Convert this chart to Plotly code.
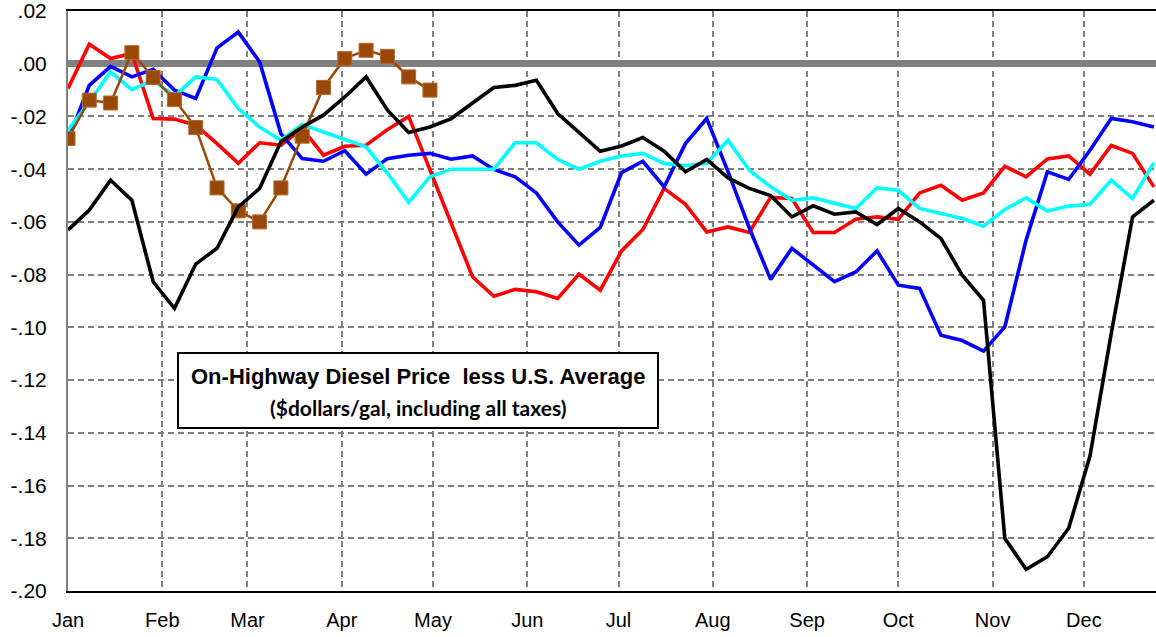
import pandas as pd
import plotly.graph_objects as go

# Weekly observation dates (52 weeks starting Jan 1)
weeks = pd.date_range("2019-01-01", periods=52, freq="7D")

month_labels = ["Jan", "Feb", "Mar", "Apr", "May", "Jun", "Jul", "Aug", "Sep", "Oct", "Nov", "Dec"]
y_tick_vals = [0.02, 0.0, -0.02, -0.04, -0.06, -0.08, -0.10, -0.12, -0.14, -0.16, -0.18, -0.20]
y_tick_text = [".02", ".00", "-.02", "-.04", "-.06", "-.08", "-.10", "-.12", "-.14", "-.16", "-.18", "-.20"]

black_vals = [-0.0631, -0.0555, -0.0442, -0.0518, -0.0827, -0.0928, -0.0760, -0.0700, -0.0543, -0.0473,
              -0.0296, -0.0240, -0.0195, -0.0126, -0.0050, -0.0175, -0.0261, -0.0240, -0.0208, -0.0149,
              -0.0090, -0.0082, -0.0063, -0.0189, -0.0261, -0.0332, -0.0312, -0.0280, -0.0332, -0.0410,
              -0.0363, -0.0433, -0.0473, -0.0500, -0.0581, -0.0539, -0.0571, -0.0562, -0.0610, -0.0549,
              -0.0600, -0.0663, -0.0802, -0.0897, -0.1800, -0.1918, -0.1870, -0.1762, -0.1488, -0.1023,
              -0.0581, -0.0518]

red_vals = [-0.0094, 0.0074, 0.0020, 0.0039, -0.0208, -0.0210, -0.0233, -0.0303, -0.0378, -0.0300,
            -0.0309, -0.0246, -0.0347, -0.0313, -0.0309, -0.0250, -0.0200, -0.0400, -0.0600, -0.0808,
            -0.0882, -0.0856, -0.0865, -0.0890, -0.0798, -0.0859, -0.0710, -0.0629, -0.0473, -0.0533,
            -0.0638, -0.0619, -0.0640, -0.0507, -0.0511, -0.0640, -0.0640, -0.0590, -0.0581, -0.0590,
            -0.0490, -0.0461, -0.0518, -0.0490, -0.0389, -0.0429, -0.0361, -0.0350, -0.0419, -0.0310,
            -0.0340, -0.0467]

blue_vals = [-0.0290, -0.0082, -0.0010, -0.0050, -0.0021, -0.0100, -0.0132, 0.0060, 0.0120, 0.0007,
             -0.0265, -0.0360, -0.0370, -0.0330, -0.0419, -0.0360, -0.0347, -0.0340, -0.0362, -0.0350,
             -0.0401, -0.0429, -0.0490, -0.0600, -0.0688, -0.0621, -0.0413, -0.0370, -0.0467, -0.0303,
             -0.0208, -0.0409, -0.0623, -0.0818, -0.0700, -0.0764, -0.0827, -0.0790, -0.0710, -0.0840,
             -0.0852, -0.1030, -0.1050, -0.1090, -0.0998, -0.0669, -0.0410, -0.0439, -0.0328, -0.0208,
             -0.0220, -0.0240]

cyan_vals = [-0.0252, -0.0145, -0.0031, -0.0098, -0.0063, -0.0123, -0.0050, -0.0060, -0.0170, -0.0240,
             -0.0290, -0.0231, -0.0259, -0.0287, -0.0315, -0.0415, -0.0526, -0.0429, -0.0400, -0.0400,
             -0.0400, -0.0300, -0.0300, -0.0363, -0.0400, -0.0370, -0.0350, -0.0340, -0.0378, -0.0387,
             -0.0378, -0.0290, -0.0404, -0.0467, -0.0518, -0.0509, -0.0530, -0.0549, -0.0471, -0.0480,
             -0.0549, -0.0568, -0.0587, -0.0616, -0.0553, -0.0509, -0.0559, -0.0540, -0.0533, -0.0442,
             -0.0511, -0.0376]

brown_vals = [-0.0284, -0.0138, -0.0149, 0.0042, -0.0052, -0.0136, -0.0242, -0.0471, -0.0558, -0.0600,
              -0.0471, -0.0275, -0.0090, 0.0020, 0.0051, 0.0028, -0.0050, -0.0100]

fig = go.Figure()

LW = 3.6
fig.add_trace(go.Scatter(x=weeks, y=red_vals, mode="lines", line=dict(color="#FF0000", width=LW), name="red"))
fig.add_trace(go.Scatter(x=weeks, y=blue_vals, mode="lines", line=dict(color="#0000FF", width=LW), name="blue"))
fig.add_trace(go.Scatter(x=weeks, y=cyan_vals, mode="lines", line=dict(color="#00FFFF", width=LW), name="cyan"))
fig.add_trace(go.Scatter(x=weeks[:len(brown_vals)], y=brown_vals, mode="lines+markers",
                         line=dict(color="#984807", width=2.5),
                         marker=dict(symbol="square", size=14, color="#984807",
                                     line=dict(color="#B8682A", width=1)),
                         name="brown"))
fig.add_trace(go.Scatter(x=weeks, y=black_vals, mode="lines", line=dict(color="#000000", width=LW), name="black"))

# Title box
x0 = (178 - 68) / 1088
x1 = (658 - 68) / 1088
y0 = (591 - 428) / 580
y1 = (591 - 353) / 580
fig.add_shape(type="rect", xref="paper", yref="paper", x0=x0, x1=x1, y0=y0, y1=y1,
              line=dict(color="black", width=2), fillcolor="white", layer="above")
fig.add_annotation(xref="paper", yref="paper", x=(x0 + x1) / 2, y=(591 - 376) / 580,
                   text="<b>On-Highway Diesel Price\u00a0 less U.S. Average</b>", showarrow=False,
                   font=dict(family="Liberation Sans, Arial, sans-serif", size=22, color="black"),
                   xanchor="center", yanchor="middle")
fig.add_annotation(xref="paper", yref="paper", x=(x0 + x1) / 2, y=(591 - 407) / 580,
                   text="<b>($dollars/gal, including all taxes)</b>", showarrow=False,
                   font=dict(family="Lato, Open Sans, sans-serif", size=21, color="black"),
                   xanchor="center", yanchor="middle")

fig.update_layout(
    width=1156, height=637,
    margin=dict(l=68, r=0, t=11, b=46),
    paper_bgcolor="white", plot_bgcolor="white",
    showlegend=False,
    font=dict(family="Liberation Sans, Arial, sans-serif", size=19, color="black"),
)

fig.update_xaxes(
    type="date",
    range=["2019-01-01", "2019-12-24 17:00"],
    tickmode="array",
    tickvals=pd.date_range("2019-01-01", periods=12, freq="MS"),
    ticktext=month_labels,
    showgrid=True, gridcolor="#808080", gridwidth=2, griddash="6px,4px",
    showline=True, linecolor="black", linewidth=2, mirror=True,
    ticks="", ticklabelstandoff=10, automargin=False, ticklabeloverflow="allow",
    tickfont=dict(size=20),
)
fig.update_yaxes(
    range=[-0.20, 0.02],
    tickmode="array", tickvals=y_tick_vals, ticktext=y_tick_text,
    showgrid=True, gridcolor="#808080", gridwidth=2, griddash="6px,4px",
    zeroline=True, zerolinecolor="#808080", zerolinewidth=7,
    showline=True, linecolor="#808080", linewidth=2,
    ticks="", ticklabelstandoff=15, automargin=False, ticklabeloverflow="allow",
    tickfont=dict(size=21),
)

fig.write_html("out.html",
               config={"displayModeBar": False, "staticPlot": True},
               post_script="document.body.style.margin='0';document.body.style.padding='0';"
                           "document.documentElement.style.overflow='hidden';")
